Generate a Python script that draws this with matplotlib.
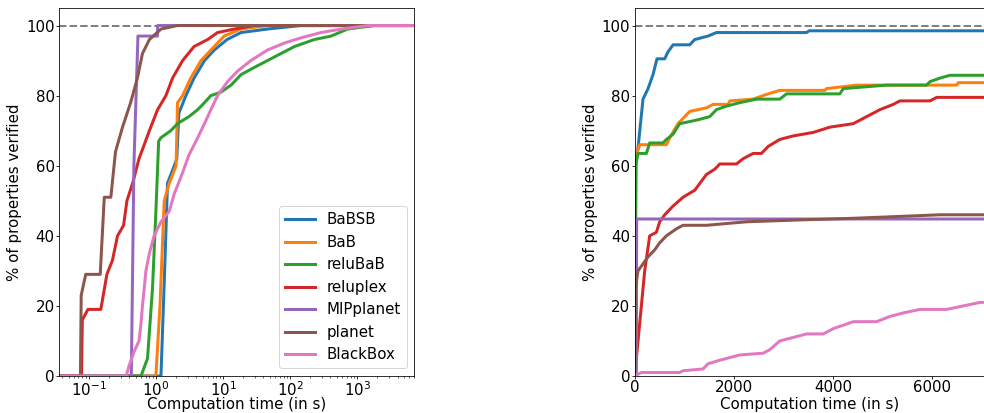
import matplotlib.pyplot as plt
from matplotlib.ticker import MultipleLocator

names = ["BaBSB", "BaB", "reluBaB", "reluplex", "MIPplanet", "planet", "BlackBox"]
colors = ["tab:blue", "tab:orange", "tab:green", "tab:red", "tab:purple", "tab:brown", "tab:pink"]

# left panel (log time axis): time in s, % verified
l_babsb_t = [0.03, 1.19, 1.35, 1.49, 1.88, 2.05, 2.2, 2.8, 3.7, 5.3, 7.4, 11.5, 18.6, 46, 146, 7200]
l_babsb_y = [0, 0, 30, 55, 60, 62, 75, 80, 85, 90, 93, 96, 98, 99, 100, 100]
l_bab_t = [0.03, 1.0, 1.15, 1.33, 1.58, 2.0, 2.1, 2.5, 3.3, 4.7, 7.4, 10.4, 18.6, 46, 7200]
l_bab_y = [0, 0, 20, 50, 55, 60, 78, 80, 85, 90, 94, 97, 99, 100, 100]
l_relubab_t = [0.03, 0.6, 0.75, 0.89, 1.0, 1.1, 1.19, 1.67, 2.1, 3.1, 4.2, 5.3, 6.6, 9.3, 13.2, 18.6,
               29, 46, 73, 116, 230, 410, 720, 1800, 7200]
l_relubab_y = [0, 0, 5, 25, 47, 67, 68, 70, 72, 74, 76, 78, 80, 81, 83, 86,
               88, 90, 92, 94, 96, 97, 99, 100, 100]
l_reluplex_t = [0.03, 0.078, 0.08, 0.097, 0.151, 0.186, 0.225, 0.268, 0.33, 0.37, 0.45, 0.56, 0.67,
                0.8, 1.06, 1.41, 1.77, 2.5, 3.7, 5.9, 8.3, 14.8, 29, 7200]
l_reluplex_y = [0, 0, 16, 19, 19, 29, 33, 40, 43, 50, 55, 62, 66,
                70, 76, 80, 85, 90, 94, 96, 98, 99, 100, 100]
l_mip_t = [0.03, 0.43, 0.47, 0.54, 1.06, 1.06, 7200]
l_mip_y = [0, 0, 60, 97, 97, 100, 100]
l_planet_t = [0.03, 0.075, 0.077, 0.09, 0.148, 0.17, 0.213, 0.25, 0.318, 0.42, 0.53, 0.63, 0.8,
              1.19, 2.1, 7200]
l_planet_y = [0, 0, 23, 29, 29, 51, 51, 64, 71, 78, 85, 92, 96, 99, 100, 100]
l_blackbox_t = [0.03, 0.36, 0.4, 0.475, 0.56, 0.6, 0.63, 0.67, 0.71, 0.8, 0.94, 1.19, 1.58, 1.88,
                2.5, 3.1, 4.2, 5.3, 6.6, 8.3, 11.7, 16.5, 26, 46, 82, 146, 290, 580, 1440, 7200]
l_blackbox_y = [0, 0, 3, 7, 10, 15, 20, 25, 30, 35, 40, 44, 47, 52,
                58, 63, 68, 72, 76, 80, 84, 87, 90, 93, 95, 96.5, 98, 99, 100, 100]

# right panel (linear time axis)
r_babsb_t = [0, 10, 67, 168, 270, 370, 450, 606, 673, 775, 1111, 1212, 1481, 1650, 3468, 3520, 7200]
r_babsb_y = [0, 60, 65, 79, 82, 86, 90.5, 90.5, 92.5, 94.5, 94.5, 96, 97, 98, 98, 98.5, 98.5]
r_bab_t = [0, 34, 101, 640, 708, 875, 1111, 1448, 1582, 1885, 1920, 2390, 2693, 2929, 3838, 3870,
           4478, 6498, 6530, 7200]
r_bab_y = [0, 63, 66, 66, 68, 72, 75.5, 76.5, 77.5, 77.5, 78.5, 79, 80.5, 81.5, 81.5, 82,
           83, 83, 83.7, 83.7]
r_relubab_t = [0, 20, 67, 236, 303, 572, 640, 775, 909, 1246, 1515, 1650, 1852, 2121, 2458, 2929,
               3064, 4141, 4209, 5084, 5892, 5960, 6162, 6364, 7200]
r_relubab_y = [0, 60, 63.5, 63.5, 66.5, 66.5, 67.5, 69, 72, 73, 74, 76, 77, 78, 79, 79,
               80.5, 80.5, 82, 83, 83, 84, 85, 85.8, 85.8]
r_reluplex_t = [0, 135, 202, 303, 438, 505, 606, 775, 976, 1212, 1448, 1616, 1717, 2054, 2189,
                2390, 2559, 2693, 2929, 3199, 3603, 3939, 4411, 4613, 4950, 5219, 5354, 5960,
                6095, 7200]
r_reluplex_y = [0, 20, 30, 40, 41, 44, 46, 48.5, 51, 53, 57.5, 59, 60.5, 60.5, 62,
                63.5, 63.5, 65.5, 67.5, 68.5, 69.5, 71, 72, 73.5, 76, 77.5, 78.5, 78.5,
                79.5, 79.5]
r_mip_t = [0, 34, 40, 7200]
r_mip_y = [0, 0, 44.8, 44.8]
r_planet_t = [0, 15, 67, 168, 270, 404, 505, 640, 842, 976, 1448, 2256, 3266, 4411, 6162, 7200]
r_planet_y = [0, 25, 30, 32, 34, 36, 38, 40, 42, 43, 43, 44, 44.5, 45, 46, 46]
r_blackbox_t = [0, 135, 909, 976, 1380, 1481, 1717, 1852, 2121, 2593, 2727, 2929, 3199, 3468,
                3805, 4007, 4209, 4411, 4882, 5152, 5421, 5758, 6296, 6633, 6970, 7200]
r_blackbox_y = [0, 1, 1, 1.5, 2, 3.5, 4.5, 5, 6, 6.5, 7.5, 10, 11, 12,
                12, 13.5, 14.5, 15.5, 15.5, 17, 18, 19, 19, 20, 21, 21]

left = [(l_babsb_t, l_babsb_y), (l_bab_t, l_bab_y), (l_relubab_t, l_relubab_y),
        (l_reluplex_t, l_reluplex_y), (l_mip_t, l_mip_y), (l_planet_t, l_planet_y),
        (l_blackbox_t, l_blackbox_y)]
right = [(r_babsb_t, r_babsb_y), (r_bab_t, r_bab_y), (r_relubab_t, r_relubab_y),
         (r_reluplex_t, r_reluplex_y), (r_mip_t, r_mip_y), (r_planet_t, r_planet_y),
         (r_blackbox_t, r_blackbox_y)]

plt.rcParams['font.size'] = 15
for a in ('xtick', 'ytick'):
    plt.rcParams[a + '.major.size'] = 3
    plt.rcParams[a + '.minor.size'] = 2
    plt.rcParams[a + '.major.pad'] = 1.5
    plt.rcParams[a + '.minor.pad'] = 1.5

fig = plt.figure(figsize=(984 / 72, 413 / 72), dpi=72)
ax1 = fig.add_axes([0.060, 0.0896, 0.361, 0.891])
ax2 = fig.add_axes([0.645, 0.0896, 0.355, 0.891])

for (t, y), name, c in zip(left, names, colors):
    ax1.plot(t, y, color=c, lw=3, label=name)
for (t, y), c in zip(right, colors):
    ax2.plot(t, y, color=c, lw=3)

for ax in (ax1, ax2):
    ax.axhline(100, color="gray", ls="--", lw=2, zorder=0)
    ax.set_ylim(0, 105)
    ax.set_xlabel("Computation time (in s)")
    ax.xaxis.set_label_coords(0.5, -0.057)
    ax.set_ylabel("% of properties verified")

ax1.set_xscale("log")
ax1.set_xlim(0.036, 7100)
ax2.set_xlim(0, 7050)
ax2.xaxis.set_major_locator(MultipleLocator(2000))
ax1.legend(loc="lower right")

fig.savefig("out.png", dpi=72)
